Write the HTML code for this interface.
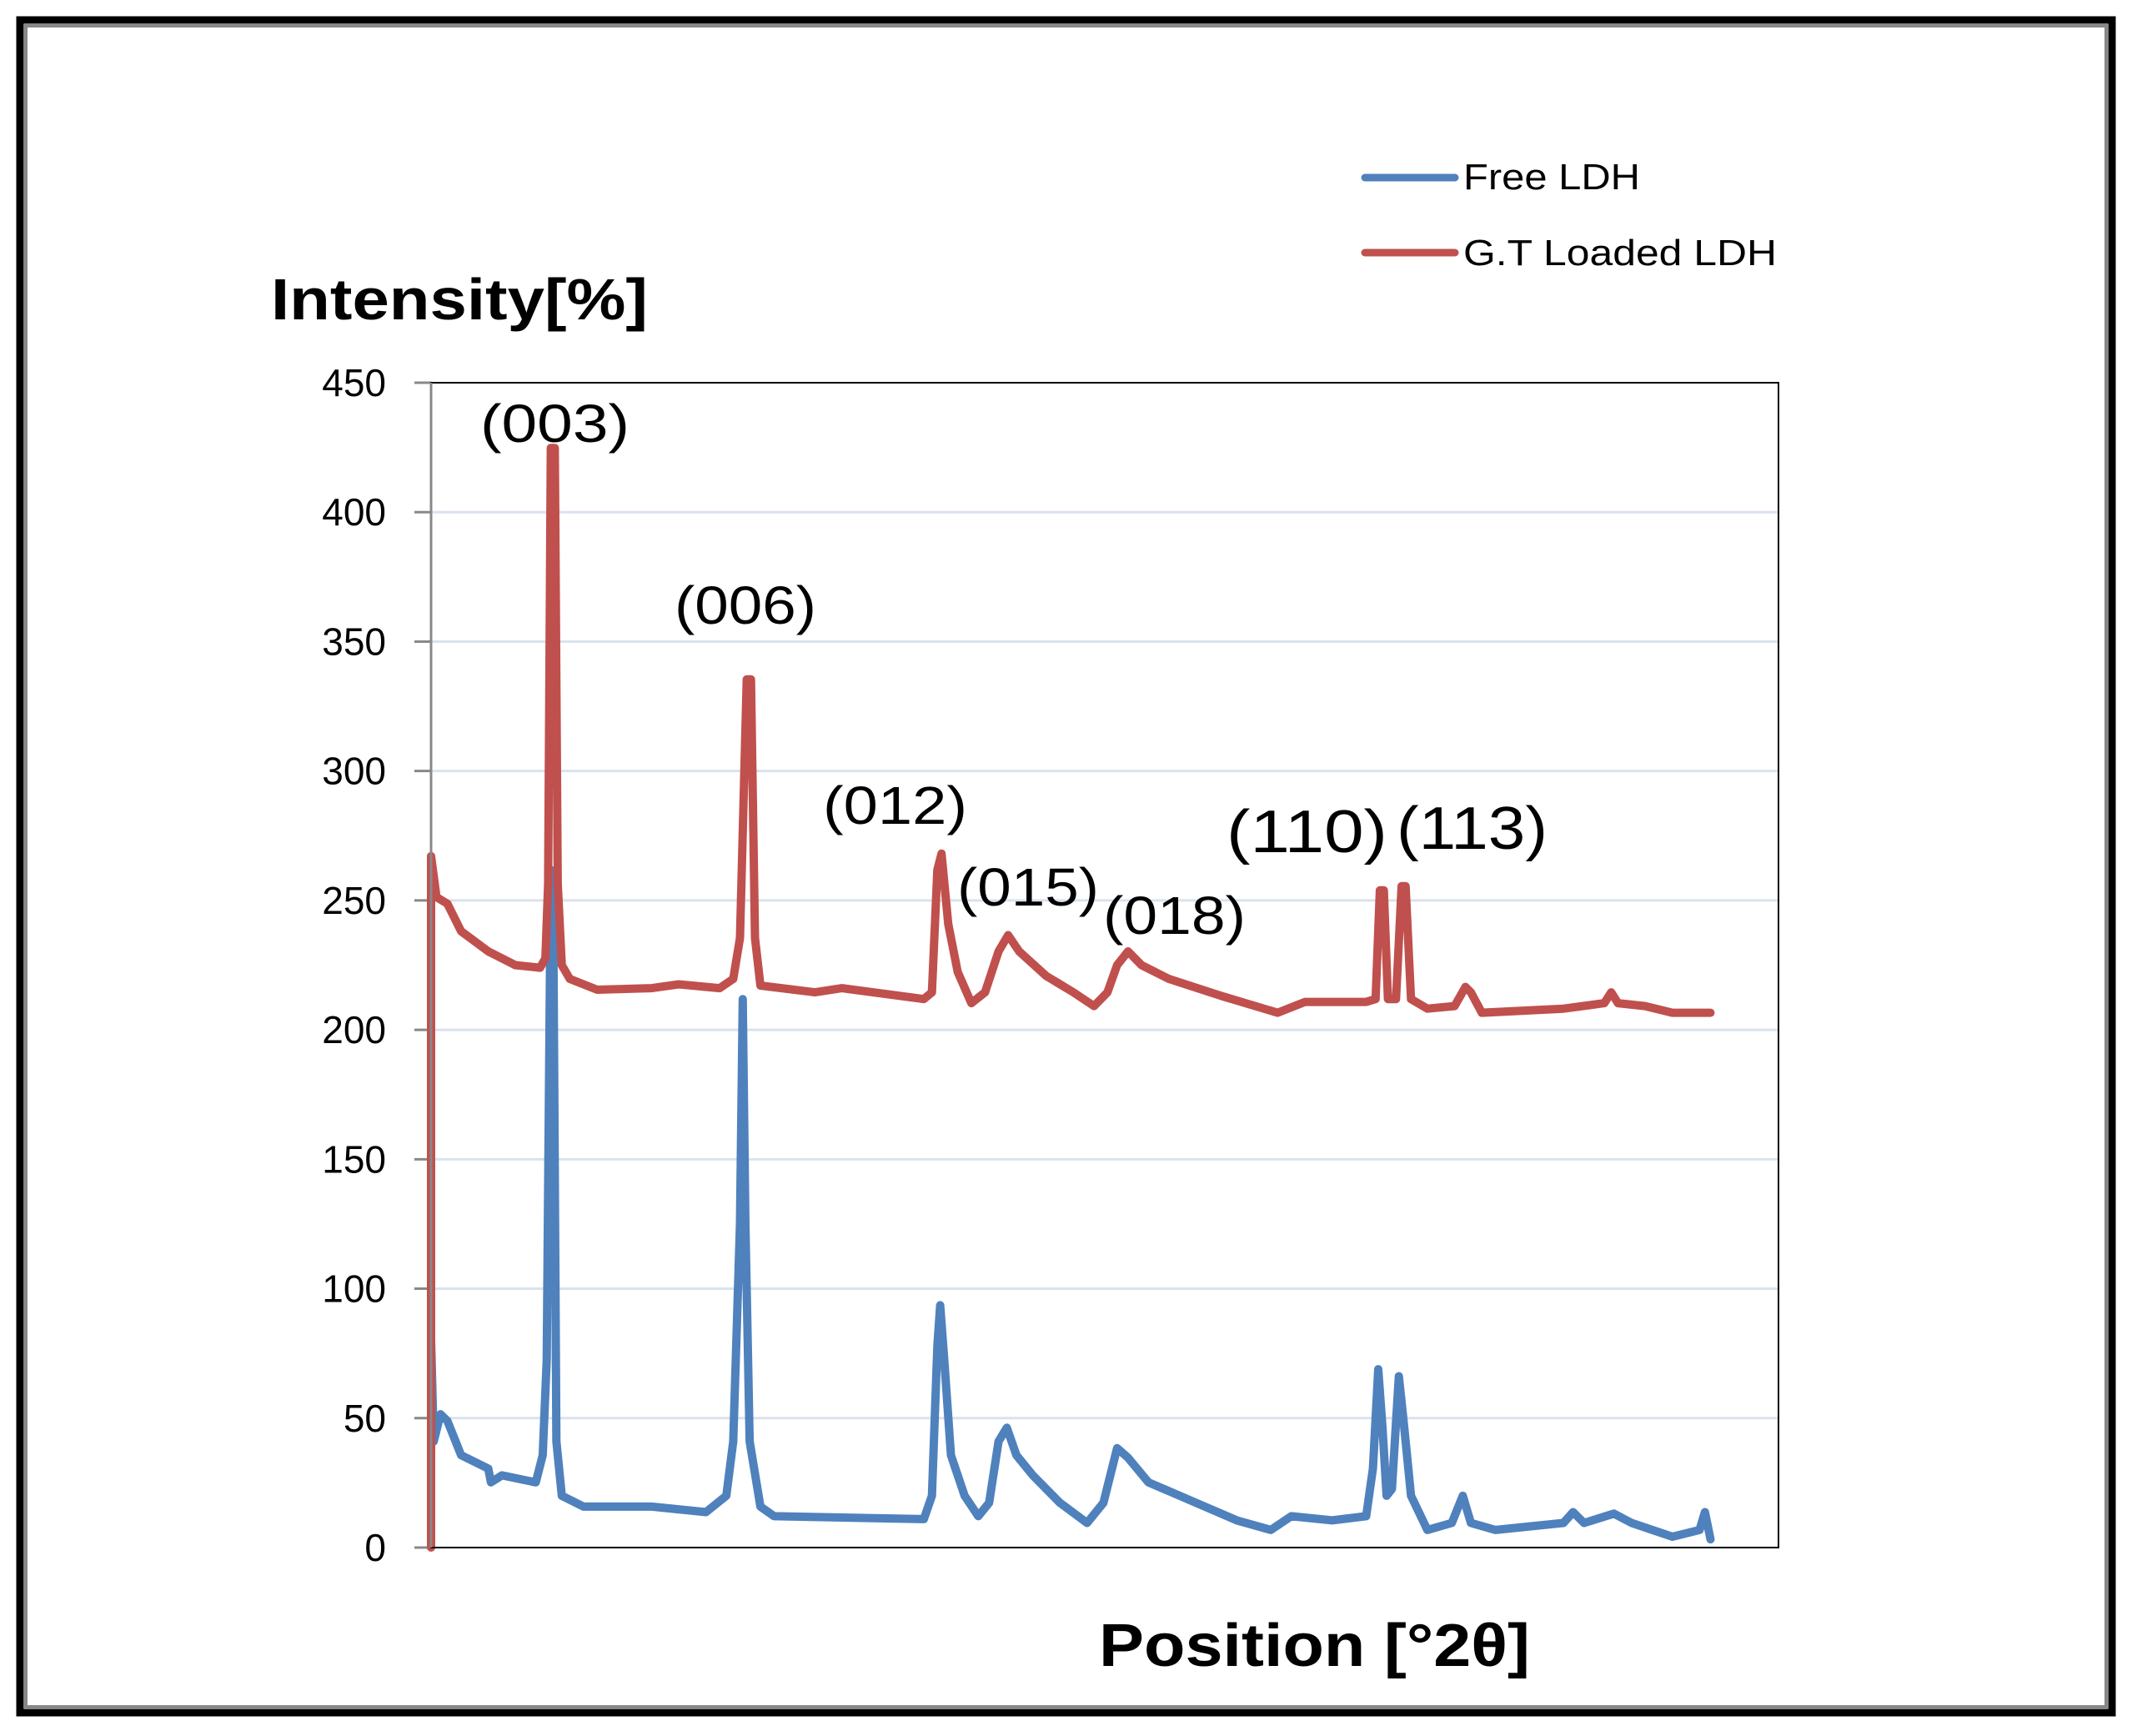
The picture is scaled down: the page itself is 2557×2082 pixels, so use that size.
<!DOCTYPE html>
<html><head><meta charset="utf-8"><style>
html,body{margin:0;padding:0;background:#fff;}
svg{display:block;}
text{font-family:"Liberation Sans",sans-serif;}
</style></head><body>
<svg width="2557" height="2082" viewBox="0 0 2557 2082" xmlns="http://www.w3.org/2000/svg">
<rect x="24" y="24" width="2509" height="2030" fill="none" stroke="#000" stroke-width="9"/>
<rect x="31" y="31" width="2495" height="2016" fill="none" stroke="#888" stroke-width="4"/>
<g id="grid"></g>
<g id="yticks"></g>
<g id="series"></g>
<rect x="517" y="459" width="1616" height="1397" fill="none" stroke="#000" stroke-width="2"/>
<line x1="517" y1="459" x2="517" y2="1856" stroke="#888" stroke-width="3"/>
<text x="325" y="383" font-size="70" font-weight="bold" textLength="452" lengthAdjust="spacingAndGlyphs">Intensity[%]</text>
<text x="1318" y="1998" font-size="72" font-weight="bold" textLength="517" lengthAdjust="spacingAndGlyphs">Position [°2θ]</text>
<g>
<line x1="1637" y1="213" x2="1745" y2="213" stroke="#4F81BD" stroke-width="9" stroke-linecap="round"/>
<text x="1755" y="227" font-size="44" textLength="212" lengthAdjust="spacingAndGlyphs">Free LDH</text>
<line x1="1637" y1="303" x2="1745" y2="303" stroke="#C0504D" stroke-width="9" stroke-linecap="round"/>
<text x="1755" y="318" font-size="44" textLength="376" lengthAdjust="spacingAndGlyphs">G.T Loaded LDH</text>
</g>
<g font-size="64">
<text x="576" y="530" textLength="179" lengthAdjust="spacingAndGlyphs">(003)</text>
<text x="809" y="748" textLength="170" lengthAdjust="spacingAndGlyphs">(006)</text>
<text x="987" y="988" textLength="173" lengthAdjust="spacingAndGlyphs">(012)</text>
<text x="1148" y="1086" textLength="170" lengthAdjust="spacingAndGlyphs">(015)</text>
<text x="1323" y="1120" textLength="171" lengthAdjust="spacingAndGlyphs">(018)</text>
<text x="1471" y="1022" font-size="72" textLength="193" lengthAdjust="spacingAndGlyphs">(110)</text>
<text x="1675" y="1018" font-size="72" textLength="181" lengthAdjust="spacingAndGlyphs">(113)</text>
</g>
</svg>
<script>
const yTicks = [0,50,100,150,200,250,300,350,400,450];
const redX = [5.00,5.00,5.28,5.85,6.56,7.97,9.38,10.66,10.94,11.08,11.22,11.43,11.58,11.79,12.21,13.63,16.46,17.87,19.99,20.70,21.05,21.40,21.62,21.83,22.11,24.94,26.35,30.60,31.02,31.30,31.52,31.87,32.36,33.07,33.78,34.48,34.98,35.55,36.96,38.37,39.44,40.14,40.64,41.21,41.91,43.33,46.15,48.98,50.40,53.58,54.07,54.29,54.50,54.71,55.13,55.42,55.63,55.91,56.76,58.17,58.74,59.02,59.59,63.83,65.95,66.31,66.66,68.07,69.49,71.47];
const redY = [0,267.1,251.3,248.7,238.1,230.3,225.0,224.0,227.6,256.5,424.8,424.8,256.5,225.0,219.7,215.5,216.1,217.6,216.1,219.7,235.5,335.4,335.4,235.5,217.1,214.5,216.1,211.9,214.5,261.8,268.1,240.8,222.4,210.3,214.5,230.3,236.6,230.3,220.8,214.5,209.2,214.5,225.0,230.3,225.0,219.7,212.9,206.6,210.8,210.8,211.9,253.9,253.9,211.9,211.9,255.5,255.5,211.9,208.2,209.2,216.6,214.5,206.6,208.2,210.3,214.5,210.3,209.2,206.6,206.6];
const blueX = [5.00,5.14,5.49,5.85,6.56,7.97,8.11,8.68,10.44,10.80,11.01,11.22,11.36,11.51,11.79,12.92,16.46,19.28,20.34,20.70,21.05,21.19,21.33,21.55,22.11,22.82,30.60,31.02,31.30,31.45,31.66,32.01,32.72,33.43,33.99,34.48,34.91,35.41,36.26,37.67,39.08,39.93,40.64,41.21,42.27,44.74,46.86,48.63,49.69,51.81,53.58,53.93,54.21,54.43,54.64,54.92,55.28,55.56,55.91,56.76,58.03,58.60,59.02,60.30,63.83,64.33,64.90,66.45,67.37,69.49,70.90,71.18,71.47];
const blueY = [80.4,41.0,51.5,48.9,35.7,30.5,25.2,27.9,25.2,35.7,72.5,261.8,230.3,41.0,20.0,15.8,15.8,13.7,20.0,41.0,125.1,211.9,125.1,41.0,15.8,12.1,11.0,20.0,77.8,93.6,72.5,35.7,20.0,12.1,17.3,41.0,46.3,35.7,27.9,17.3,9.5,17.3,38.4,34.7,25.2,17.3,10.5,6.8,12.1,10.5,12.1,30.5,68.9,46.3,20.0,22.6,66.2,46.3,20.0,6.8,9.5,20.0,9.5,6.8,9.5,13.7,9.5,13.1,9.5,4.2,6.8,13.7,3.2];

const PL=517, PR=2133, PT=459, PB=1856, XMIN=5, XMAX=75, YMAX=450;
function sx(v){return PL+(v-XMIN)/(XMAX-XMIN)*(PR-PL);}
function sy(v){return PB-v/YMAX*(PB-PT);}
const NS='http://www.w3.org/2000/svg';
const grid=document.getElementById('grid'), yt=document.getElementById('yticks'), ser=document.getElementById('series');
yTicks.forEach(function(t){
  if(t>0 && t<YMAX){
    const g=document.createElementNS(NS,'line');
    g.setAttribute('x1',PL);g.setAttribute('x2',PR);g.setAttribute('y1',sy(t));g.setAttribute('y2',sy(t));
    g.setAttribute('stroke','#D9E2EE');g.setAttribute('stroke-width','3');
    
    
    grid.appendChild(g);
  }
  const tk=document.createElementNS(NS,'line');
  tk.setAttribute('x1',PL-20);tk.setAttribute('x2',PL);tk.setAttribute('y1',sy(t));tk.setAttribute('y2',sy(t));
  tk.setAttribute('stroke','#888');tk.setAttribute('stroke-width','3');
  
  
  yt.appendChild(tk);
  const tx=document.createElementNS(NS,'text');
  tx.setAttribute('x',463);tx.setAttribute('y',sy(t)+16);tx.setAttribute('text-anchor','end');tx.setAttribute('font-size','46');
  tx.textContent=t;
  
  
  yt.appendChild(tx);
});
function drawLine(xs,ys,color,name){
  const p=document.createElementNS(NS,'polyline');
  p.setAttribute('points',xs.map(function(x,i){return sx(x).toFixed(1)+','+sy(ys[i]).toFixed(1);}).join(' '));
  p.setAttribute('fill','none');p.setAttribute('stroke',color);p.setAttribute('stroke-width','10');
  p.setAttribute('stroke-linejoin','round');p.setAttribute('stroke-linecap','round');
  
  
  ser.appendChild(p);
}
drawLine(blueX,blueY,'#4F81BD','series-free-ldh');
drawLine(redX,redY,'#C0504D','series-gt-loaded-ldh');
</script>
</body></html>
